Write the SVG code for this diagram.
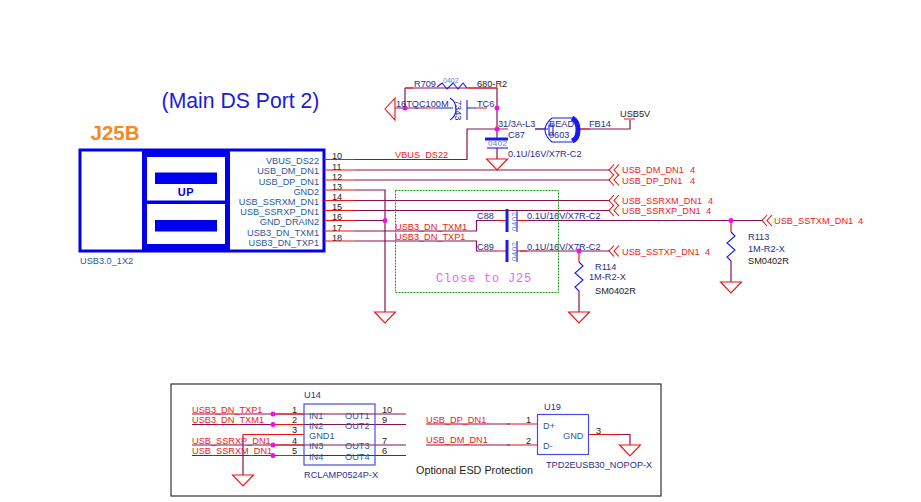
<svg xmlns="http://www.w3.org/2000/svg" width="921" height="502" viewBox="0 0 921 502">
<style>
text{font-family:"Liberation Sans",Arial,sans-serif;font-size:9.2px}
.b{fill:#1f2f8f}.k{fill:#222}.r{fill:#f01818}.l{fill:#2a5a9a}
.w{fill:none;stroke:#8a1050;stroke-width:1.2}
.s{fill:none;stroke:#f01010;stroke-width:1.2}
.p{fill:none;stroke:#1a1aee;stroke-width:1.1}
.g{fill:none;stroke:#f01010;stroke-width:1.1}
.o{fill:none;stroke:#f01010;stroke-width:1.1}
.d{fill:#f010e0}
.e{text-anchor:end}
.t{font-size:8px;letter-spacing:.4px;fill:#6a78e0}
</style>
<defs>
<path id="gnd" class="g" d="M-10.500 0H10.500L0 11Z"/>
<path id="off" class="o" d="M0 -5.500 L-5 0 L0 5.500 M5 -5.500 L0 0 L5 5.500"/>
</defs>
<g id="title">
<text x="240.500" y="108" text-anchor="middle" style="font-size:21.200px;fill:#1a1ae0">(Main DS Port 2)</text>
<text x="115" y="140" text-anchor="middle" style="font-size:20.500px;font-weight:bold;fill:#f58a1e">J25B</text>
</g>
<g id="J25B">
<rect x="80" y="150" width="244" height="101" fill="#fff" stroke="#0000ee" stroke-width="3"/>
<rect x="142" y="150" width="88" height="101" fill="#0000ee"/>
<rect x="147" y="157" width="78" height="43.500" fill="#fff"/>
<rect x="147" y="204" width="78" height="40" fill="#fff"/>
<rect x="155" y="172.500" width="62" height="11.500" fill="#0000ee"/>
<rect x="155" y="220" width="62" height="11.500" fill="#0000ee"/>
<text x="186" y="196" text-anchor="middle" style="font-weight:bold;font-size:11px;fill:#0000ee;letter-spacing:.5px">UP</text>
<text x="80" y="264" class="l">USB3.0_1X2</text>
<text x="319" y="164" class="l e">VBUS_DS22</text>
<text x="319" y="174" class="l e">USB_DM_DN1</text>
<text x="319" y="185" class="l e">USB_DP_DN1</text>
<text x="319" y="195" class="l e">GND2</text>
<text x="319" y="205" class="l e">USB_SSRXM_DN1</text>
<text x="319" y="215" class="l e">USB_SSRXP_DN1</text>
<text x="319" y="225" class="l e">GND_DRAIN2</text>
<text x="319" y="236" class="l e">USB3_DN_TXM1</text>
<text x="319" y="246" class="l e">USB3_DN_TXP1</text>
<text x="332" y="159" class="k">10</text><text x="332" y="170" class="k">11</text><text x="332" y="180" class="k">12</text><text x="332" y="190" class="k">13</text><text x="332" y="200" class="k">14</text><text x="332" y="210" class="k">15</text><text x="332" y="220" class="k">16</text><text x="332" y="231" class="k">17</text><text x="332" y="241" class="k">18</text>
</g>
<g id="connectors">
<path class="w" d="M355 159.500H467V129H497M355 170H610M355 180H610M355 190H385V312M355 200.500H610M355 210.500H610M355 220.500H385M355 231H476.500V220.500H498M355 241H476.500V251H498M520 220.500H762M520 251H610M405 88V108M405 88H497V129M497 129V139M497 148V159M395 108H425M579 292V312M731 262V282M578 129H630V120"/>
<path class="s" d="M324 159.500H355M324 170H355M324 180H355M324 190H355M324 200.500H355M324 210.500H355M324 220.500H355M324 231H355M324 241H355"/>
<path class="s" d="M498 220.500H507M517 220.500H527M498 251H507M517 251H527M579 251V262M731 220.500V232M425 108H436M476 108H487M405 88H413M468 88H497M497 129H508M535 129H545M578 129H590M624 119H635"/>
<path class="p" d="M436 108H453M467 108H476"/>
<path class="p" d="M467 100V120"/>
<path class="p" d="M450 98c8 5 8 17 0 22"/>
<path class="p" d="M579 262l4 4l-8 7l8 7l-8 7l4 4v1M731 232l4 4l-8 7l8 7l-8 7l4 4v1"/>
<path class="p" d="M437 87l5-4l5 6l6-6l5 6l5-6l4 5"/>
<path class="p" d="M485 139H508" style="stroke-width:3"/>
<path class="p" d="M487 148H508"/>
<path class="p" d="M507 209V232M507 240V262" style="stroke-width:3"/>
<path class="p" d="M517 211V232M517 241V262"/>
<path class="p" d="M535 129H548M552 118C547 122 545 126 545 130C545 134 547 138 552 142H572M552 118H572M549 125H553V135H549Z"/>
<path d="M572 118C580 122 580 138 572 141" fill="none" stroke="#1a1aee" stroke-width="5"/>
<path class="g" d="M395 98L385 109L395 120Z"/>
<circle class="d" cx="405" cy="108" r="2.500"/><circle class="d" cx="497" cy="108" r="2.500"/><circle class="d" cx="497" cy="129" r="2.500"/><circle class="d" cx="385" cy="220.500" r="2.500"/><circle class="d" cx="579" cy="251" r="2.500"/><circle class="d" cx="731" cy="220.500" r="2.500"/>
<use href="#gnd" x="497" y="159"/><use href="#gnd" x="385" y="312"/><use href="#gnd" x="579" y="312"/><use href="#gnd" x="731" y="282"/>
<use href="#off" x="614" y="170"/><use href="#off" x="614" y="180"/><use href="#off" x="614" y="200.500"/><use href="#off" x="614" y="210.500"/><use href="#off" x="614" y="251"/><use href="#off" x="767" y="220.500"/>
<path class="w" d="M192 414H406M192 424.500H406M243 434.500V475M192 445H406M192 455.500H406M426 424H510M426 445H510"/>
<path class="s" d="M243 434.500H304M272 414H304M272 424.500H304M272 445H304M272 455.500H304M507 424H537M507 445H537M589 434.500H620"/>
<path class="w" d="M620 434.500H630V445"/>
<use href="#gnd" x="243" y="475"/><use href="#gnd" x="630" y="445"/>
<circle class="d" cx="273" cy="414" r="2.500"/><circle class="d" cx="273" cy="424.500" r="2.500"/><circle class="d" cx="273" cy="445" r="2.500"/><circle class="d" cx="273" cy="455.500" r="2.500"/>
</g>
<g id="labels">
<text x="414" y="87" class="b">R709</text><text x="443" y="83" class="t" style="font-size:7px;letter-spacing:0">0402</text><text x="477" y="87" class="k">680-R2</text>
<text x="396" y="107" class="b">16TQC100M</text><text x="477" y="107" class="b">TC6</text>
<text transform="translate(455 100) rotate(90)" class="b">7343</text>
<text x="498" y="127" class="b">31/3A-L3</text><text x="508" y="138" class="b">C87</text>
<text x="488" y="146" class="t">0402</text>
<text x="508" y="157" class="b">0.1U/16V/X7R-C2</text>
<text x="549" y="127" class="b">BEAD</text><text x="549" y="138" class="b">0603</text><text x="589" y="127" class="b">FB14</text><text x="620" y="117" class="k">USB5V</text>
<text x="395" y="158" class="r">VBUS_DS22</text>
<text x="395" y="230" class="r">USB3_DN_TXM1</text><text x="395" y="240" class="r">USB3_DN_TXP1</text>
<text x="477" y="219" class="b">C88</text><text x="477" y="250" class="b">C89</text>
<text x="527" y="219" class="b">0.1U/16V/X7R-C2</text><text x="527" y="250" class="b">0.1U/16V/X7R-C2</text>
<text transform="translate(517 231) rotate(-90)" class="t">0402</text><text transform="translate(517 261) rotate(-90)" class="t">0402</text>
<text x="436" y="282" style="font-family:'Liberation Mono',monospace;font-size:12px;fill:#f060f0;letter-spacing:.8px">Close to J25</text>
<text x="595" y="270" class="b">R114</text><text x="589" y="280" class="b">1M-R2-X</text><text x="595" y="294" class="k">SM0402R</text>
<text x="748" y="240" class="b">R113</text><text x="748" y="252" class="b">1M-R2-X</text><text x="748" y="264" class="k">SM0402R</text>
<text x="622" y="173" class="r">USB_DM_DN1</text><text x="690" y="173" class="r">4</text>
<text x="622" y="184" class="r">USB_DP_DN1</text><text x="690" y="184" class="r">4</text>
<text x="622" y="204" class="r">USB_SSRXM_DN1</text><text x="708" y="204" class="r">4</text>
<text x="622" y="214" class="r">USB_SSRXP_DN1</text><text x="706" y="214" class="r">4</text>
<text x="622" y="255" class="r">USB_SSTXP_DN1</text><text x="705" y="255" class="r">4</text>
<text x="774" y="224" class="r">USB_SSTXM_DN1</text><text x="858" y="224" class="r">4</text>
</g>
<rect id="close-box" x="395.500" y="190.500" width="163" height="102" fill="none" stroke="#1f9a1f" stroke-dasharray="2 1"/>
<rect id="esd-box" x="171" y="384" width="490" height="112" fill="none" stroke="#333" stroke-width="1.200"/>
<g id="U14">
<rect x="304" y="404" width="71" height="61" fill="none" stroke="#4a4ae8" stroke-width="1.200"/>
<text x="304" y="398" class="b">U14</text><text x="304" y="478" class="b">RCLAMP0524P-X</text>
<text x="309" y="419" class="l">IN1</text><text x="309" y="429" class="l">IN2</text><text x="309" y="439" class="l">GND1</text><text x="309" y="449" class="l">IN3</text><text x="309" y="460" class="l">IN4</text>
<text x="345" y="419" class="l">OUT1</text><text x="345" y="429" class="l">OUT2</text><text x="345" y="449" class="l">OUT3</text><text x="345" y="460" class="l">OUT4</text>
<text x="292" y="413" class="k">1</text><text x="292" y="423" class="k">2</text><text x="292" y="433" class="k">3</text><text x="292" y="444" class="k">4</text><text x="292" y="454" class="k">5</text><text x="382" y="413" class="k">10</text><text x="382" y="423" class="k">9</text><text x="382" y="444" class="k">7</text><text x="382" y="454" class="k">6</text>
<text x="192" y="413" class="r">USB3_DN_TXP1</text><text x="192" y="423" class="r">USB3_DN_TXM1</text><text x="192" y="444" class="r">USB_SSRXP_DN1</text><text x="192" y="454" class="r">USB_SSRXM_DN1</text>
</g>
<g id="U19">
<rect x="537.500" y="414.500" width="51" height="40" fill="none" stroke="#4a4ae8" stroke-width="1.200"/>
<text x="544" y="410" class="b">U19</text><text x="543" y="429" class="l">D+</text><text x="543" y="449" class="l">D-</text><text x="563" y="439" class="l">GND</text>
<text x="546" y="468" class="b">TPD2EUSB30_NOPOP-X</text>
<text x="526" y="423" class="k">1</text><text x="526" y="444" class="k">2</text><text x="596" y="434" class="k">3</text>
<text x="426" y="423" class="r">USB_DP_DN1</text><text x="426" y="443" class="r">USB_DM_DN1</text>
<text x="416" y="474" class="k" style="font-size:10.800px">Optional ESD Protection</text>
</g>
</svg>
